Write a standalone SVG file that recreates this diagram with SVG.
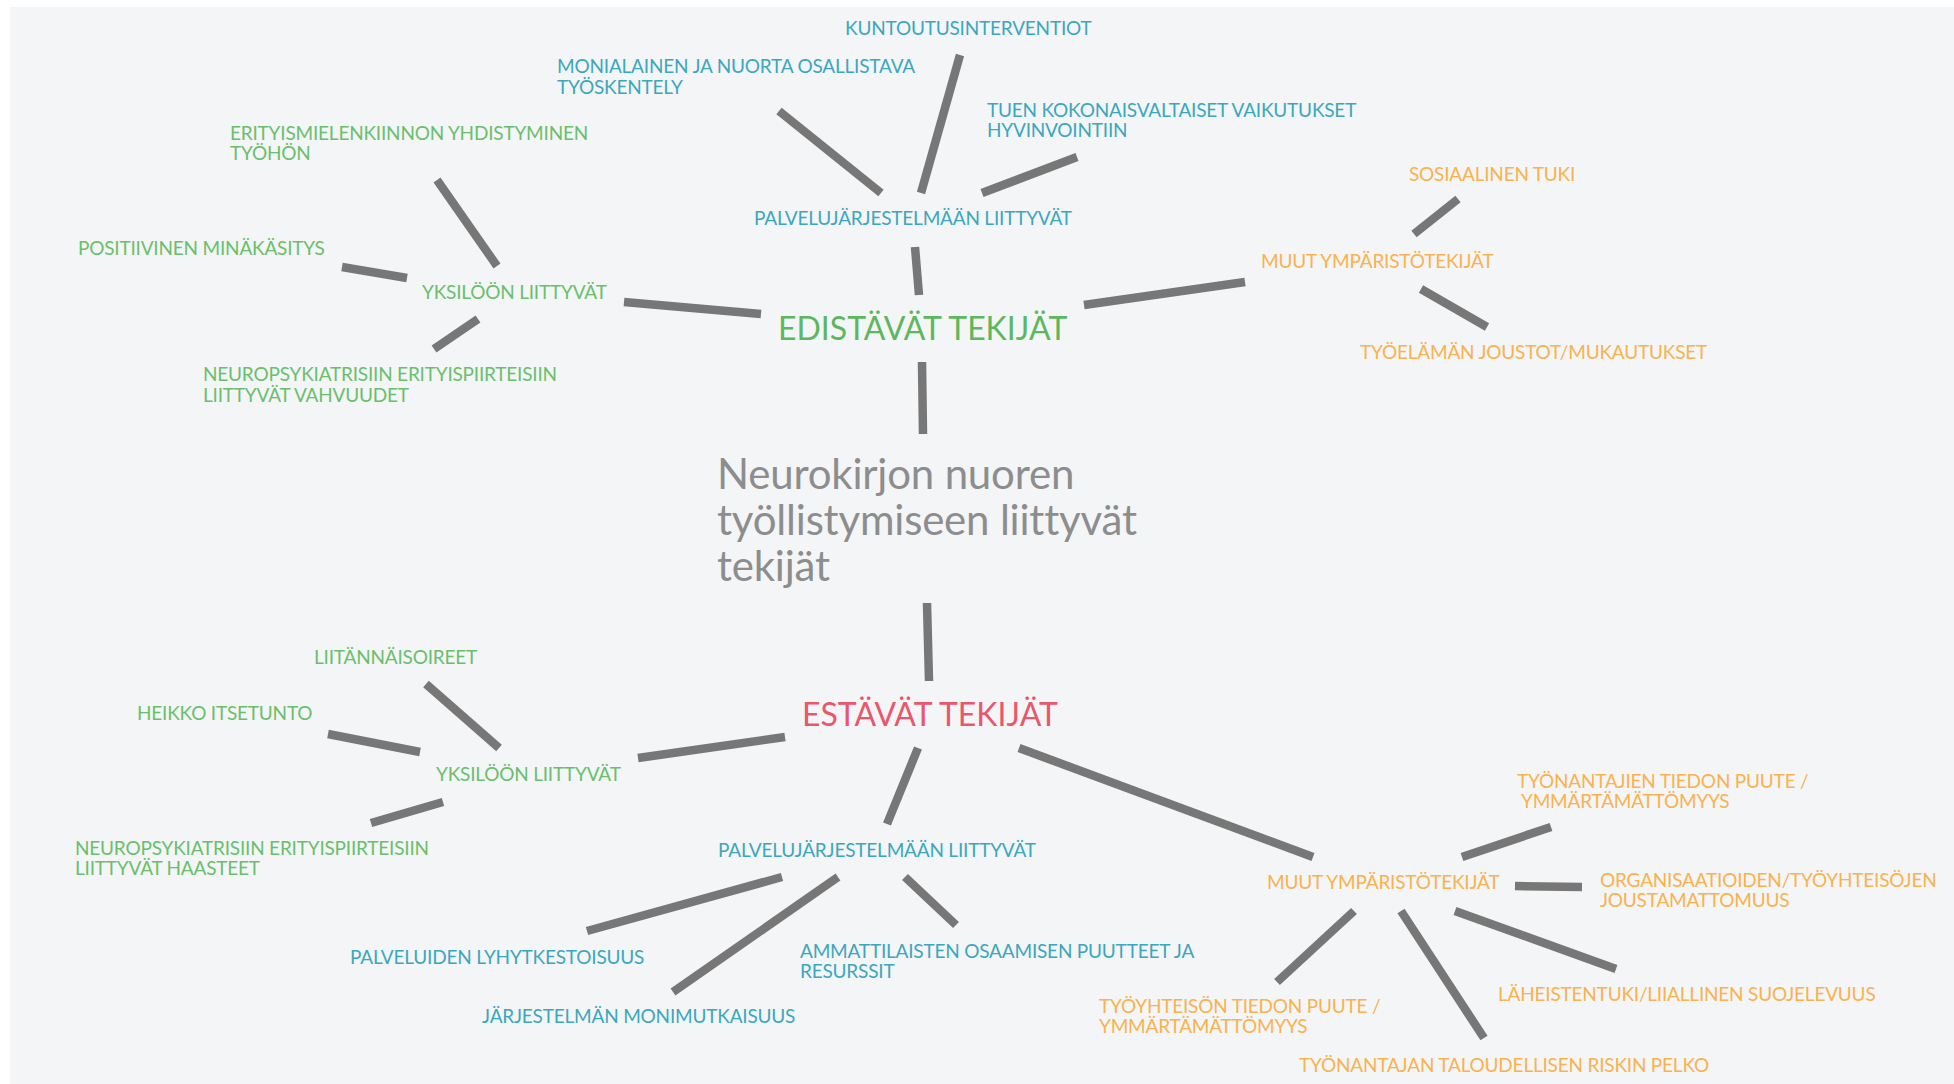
<svg xmlns="http://www.w3.org/2000/svg" width="1954" height="1084" viewBox="0 0 1954 1084">
<style>
text{font-family:Lato,"Noto Sans","Liberation Sans",sans-serif}
.s{font-size:19px;letter-spacing:-0.2px}
.t{fill:#3ba7be}
.g{fill:#6abf6c}
.o{fill:#f9b24e}
.title{font-size:42px;letter-spacing:-0.2px;fill:#8d8d8d}
.big{font-size:32px}
.c line{stroke:#777;stroke-width:8.5;stroke-linecap:butt}
</style>
<rect x="10" y="7" width="1944" height="1077" fill="#f4f5f7"/>
<g class="c" id="connectors">
<line x1="437" y1="180" x2="497" y2="266"/>
<line x1="342" y1="267" x2="407" y2="278"/>
<line x1="434" y1="349" x2="478" y2="319"/>
<line x1="624" y1="302" x2="761" y2="314"/>
<line x1="779" y1="111" x2="881" y2="193"/>
<line x1="960" y1="55" x2="921" y2="193"/>
<line x1="1077" y1="157" x2="982" y2="193"/>
<line x1="915" y1="247" x2="919" y2="295"/>
<line x1="1084" y1="305" x2="1245" y2="282"/>
<line x1="922" y1="362" x2="923" y2="434"/>
<line x1="1414" y1="234" x2="1458" y2="199"/>
<line x1="1421" y1="289" x2="1487" y2="327"/>
<line x1="927" y1="603" x2="929" y2="681"/>
<line x1="426" y1="684" x2="499" y2="748"/>
<line x1="328" y1="734" x2="420" y2="752"/>
<line x1="371" y1="823" x2="443" y2="802"/>
<line x1="638" y1="758" x2="785" y2="737"/>
<line x1="918" y1="748" x2="887" y2="824"/>
<line x1="1019" y1="748" x2="1313" y2="857"/>
<line x1="782" y1="877" x2="587" y2="931"/>
<line x1="838" y1="877" x2="673" y2="992"/>
<line x1="905" y1="877" x2="956" y2="925"/>
<line x1="1462" y1="857" x2="1551" y2="827"/>
<line x1="1515" y1="886" x2="1582" y2="887"/>
<line x1="1455" y1="911" x2="1616" y2="969"/>
<line x1="1401" y1="911" x2="1484" y2="1038"/>
<line x1="1354" y1="911" x2="1277" y2="982"/>
</g>
<g id="title"><text class="title"><tspan x="717" y="489">Neurokirjon nuoren</tspan><tspan x="717" y="535">työllistymiseen liittyvät</tspan><tspan x="717" y="581">tekijät</tspan></text></g>
<g id="edistavat"><text class="big" x="778" y="340" fill="#5cb85c">EDISTÄVÄT TEKIJÄT</text></g>
<g id="estavat"><text class="big" x="802" y="726" fill="#e9576d">ESTÄVÄT TEKIJÄT</text></g>
<g id="e-palvelu"><text class="s t" x="754" y="225">PALVELUJÄRJESTELMÄÄN LIITTYVÄT</text></g>
<g id="e-kuntoutus"><text class="s t" x="845" y="35">KUNTOUTUSINTERVENTIOT</text></g>
<g id="e-monialainen"><text class="s t"><tspan x="557" y="73">MONIALAINEN JA NUORTA OSALLISTAVA</tspan><tspan x="557" y="94">TYÖSKENTELY</tspan></text></g>
<g id="e-tuen"><text class="s t"><tspan x="987" y="117">TUEN KOKONAISVALTAISET VAIKUTUKSET</tspan><tspan x="987" y="137">HYVINVOINTIIN</tspan></text></g>
<g id="e-yksiloon"><text class="s g" x="422" y="299">YKSILÖÖN LIITTYVÄT</text></g>
<g id="e-erityis"><text class="s g"><tspan x="230" y="140">ERITYISMIELENKIINNON YHDISTYMINEN</tspan><tspan x="230" y="160">TYÖHÖN</tspan></text></g>
<g id="e-positiivinen"><text class="s g" x="78" y="255">POSITIIVINEN MINÄKÄSITYS</text></g>
<g id="e-neuro"><text class="s g"><tspan x="203" y="381">NEUROPSYKIATRISIIN ERITYISPIIRTEISIIN</tspan><tspan x="203" y="402">LIITTYVÄT VAHVUUDET</tspan></text></g>
<g id="e-muut"><text class="s o" x="1261" y="268">MUUT YMPÄRISTÖTEKIJÄT</text></g>
<g id="e-sosiaalinen"><text class="s o" x="1409" y="181">SOSIAALINEN TUKI</text></g>
<g id="e-joustot"><text class="s o" x="1360" y="359">TYÖELÄMÄN JOUSTOT/MUKAUTUKSET</text></g>
<g id="s-yksiloon"><text class="s g" x="436" y="781">YKSILÖÖN LIITTYVÄT</text></g>
<g id="s-liitannais"><text class="s g" x="314" y="664">LIITÄNNÄISOIREET</text></g>
<g id="s-heikko"><text class="s g" x="137" y="720">HEIKKO ITSETUNTO</text></g>
<g id="s-neuro"><text class="s g"><tspan x="75" y="855">NEUROPSYKIATRISIIN ERITYISPIIRTEISIIN</tspan><tspan x="75" y="875">LIITTYVÄT HAASTEET</tspan></text></g>
<g id="s-palvelu"><text class="s t" x="718" y="857">PALVELUJÄRJESTELMÄÄN LIITTYVÄT</text></g>
<g id="s-lyhyt"><text class="s t" x="350" y="964">PALVELUIDEN LYHYTKESTOISUUS</text></g>
<g id="s-monimutk"><text class="s t" x="482" y="1023">JÄRJESTELMÄN MONIMUTKAISUUS</text></g>
<g id="s-ammatti"><text class="s t"><tspan x="800" y="958">AMMATTILAISTEN OSAAMISEN PUUTTEET JA</tspan><tspan x="800" y="978">RESURSSIT</tspan></text></g>
<g id="s-muut"><text class="s o" x="1267" y="889">MUUT YMPÄRISTÖTEKIJÄT</text></g>
<g id="s-tyonantajien"><text class="s o"><tspan x="1517" y="788">TYÖNANTAJIEN TIEDON PUUTE /</tspan><tspan x="1521" y="808">YMMÄRTÄMÄTTÖMYYS</tspan></text></g>
<g id="s-organisaatio"><text class="s o"><tspan x="1600" y="887">ORGANISAATIOIDEN/TYÖYHTEISÖJEN</tspan><tspan x="1600" y="907">JOUSTAMATTOMUUS</tspan></text></g>
<g id="s-laheisten"><text class="s o" x="1498" y="1001">LÄHEISTENTUKI/LIIALLINEN SUOJELEVUUS</text></g>
<g id="s-tyoyhteiso"><text class="s o"><tspan x="1099" y="1013">TYÖYHTEISÖN TIEDON PUUTE /</tspan><tspan x="1099" y="1033">YMMÄRTÄMÄTTÖMYYS</tspan></text></g>
<g id="s-riski"><text class="s o" x="1299" y="1072">TYÖNANTAJAN TALOUDELLISEN RISKIN PELKO</text></g>
</svg>
